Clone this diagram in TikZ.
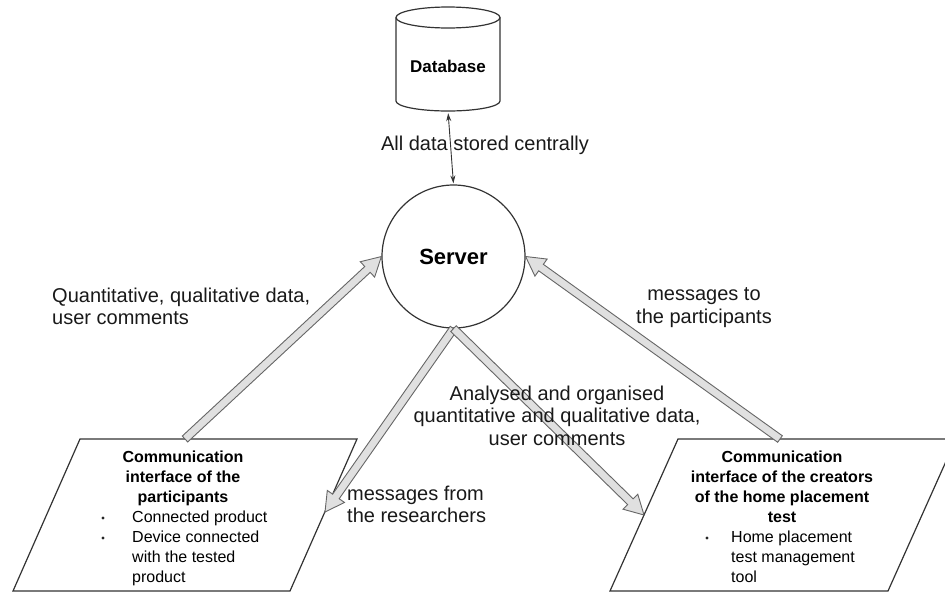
\documentclass[tikz,border=0pt]{standalone}
\usepackage{fontspec}
\setmainfont{Liberation Sans}
\usetikzlibrary{calc,arrows.meta}

\tikzset{
  lbl/.style={font=\fontsize{20}{22.5}\selectfont, text=black!90, inner sep=0pt},
  box/.style={draw=black!80, line width=1.2pt, fill=white, line join=miter},
  fat/.style={draw=black!60, fill=black!12, line width=0.9pt, line join=miter},
  ttl/.style={font=\bfseries\fontsize{16}{20}\selectfont, align=center, inner sep=0pt, anchor=north},
  itm/.style={font=\fontsize{16}{20}\selectfont, align=left, inner sep=0pt, anchor=north west},
  bul/.style={circle, fill=black!85, inner sep=0pt, minimum size=3.2pt},
  thin/.style={draw=black!80, line width=0.9pt, {Stealth[length=8pt,width=5pt]}-{Stealth[length=8pt,width=5pt]}},
}

\newcommand\fatarrow[2]{%
  \coordinate (fa-h) at ($(#2)!19pt!(#1)$);
  \draw[fat] ($(#1)!4pt!90:(#2)$) -- ($(fa-h)!4pt!-90:(#1)$) -- ($(fa-h)!10.5pt!-90:(#1)$) -- (#2)
    -- ($(fa-h)!10.5pt!90:(#1)$) -- ($(fa-h)!4pt!90:(#1)$) -- ($(#1)!4pt!-90:(#2)$) -- cycle;
}

\begin{document}
\begin{tikzpicture}[x=1pt,y=-1pt]
\useasboundingbox (0,0) rectangle (945,592);
\clip (0,0) rectangle (945,592);

% Database cylinder
\node[minimum width=104pt, minimum height=104pt, inner sep=0pt] (db) at (448,59) {};
\draw[box] (396,17.5) -- (396,101) arc[start angle=180, end angle=0, x radius=52, y radius=10] -- (500,17.5)
  arc[start angle=0, end angle=-180, x radius=52, y radius=10.5] -- cycle;
\draw[box, fill=none] (396,17.5) arc[start angle=180, end angle=0, x radius=52, y radius=10.5];
\node[font=\bfseries\fontsize{17}{20}\selectfont, inner sep=0pt] (dbt) at (448,66) {Database};

% Server
\node[circle, draw=black!80, line width=1.2pt, minimum size=143pt, inner sep=0pt,
      font=\bfseries\fontsize{22}{26}\selectfont] (srv) at (453.5,256.5) {Server};

% Thin double arrow
\draw[thin, shorten <=2pt, shorten >=1pt] (db.south) -- (srv.north);
\node[lbl, anchor=base] (l0) at (485,150) {All data stored centrally};

% Parallelograms
\coordinate (lp1) at (80,439);
\coordinate (lp2) at (357,439);
\coordinate (lp3) at (290,591);
\coordinate (lp4) at (13,591);
\draw[box] (lp1) -- (lp2) -- (lp3) -- (lp4) -- cycle;
\coordinate (lpA) at (185,439);
\coordinate (lpB) at (325,512);

\coordinate (rp1) at (678,439);
\coordinate (rp2) at (956,439);
\coordinate (rp3) at (888,591);
\coordinate (rp4) at (610,591);
\draw[box] (rp1) -- (rp2) -- (rp3) -- (rp4) -- cycle;
\coordinate (rpA) at (780,439);
\coordinate (rpB) at (644,515);

% Left parallelogram text
\node[ttl] (lt) at (183,451) {Communication\\interface of the\\participants};
\node[bul] (lb1) at (103,518) {};
\node[itm] (li1) at (132,511) {Connected product};
\node[bul] (lb2) at (103,538) {};
\node[itm] (li2) at (132,531) {Device connected\\with the tested\\product};

% Right parallelogram text
\node[ttl] (rt) at (782,451) {Communication\\interface of the creators\\of the home placement\\test};
\node[bul] (rb1) at (707,538) {};
\node[itm] (ri1) at (731,531) {Home placement\\test management\\tool};

% Fat arrows
\fatarrow{lpA}{srv.west}
\fatarrow{rpA}{srv.east}
\fatarrow{srv.south}{lpB}
\fatarrow{srv.south}{rpB}

% Labels
\node[lbl, align=left, anchor=north west] (l1) at (52,287.5) {Quantitative, qualitative data,\\user comments};
\node[lbl, align=center, anchor=north] (l2) at (704,287.5) {messages to\\the participants};
\node[lbl, align=center, anchor=north] (l3) at (557,385.5) {Analysed and organised\\quantitative and qualitative data,\\user comments};
\node[lbl, align=left, anchor=north west] (l4) at (347,485.5) {messages from\\the researchers};
\end{tikzpicture}
\end{document}
